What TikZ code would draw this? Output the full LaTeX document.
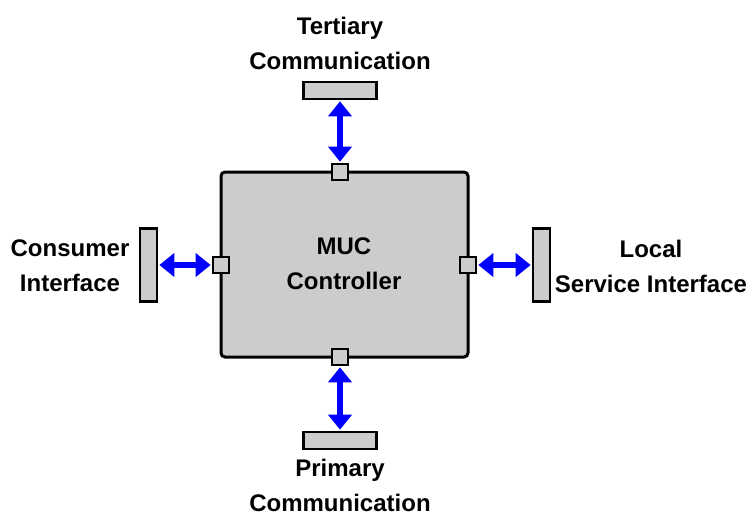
\documentclass[tikz,border=0pt]{standalone}
\usepackage{fontspec}
\setmainfont{Liberation Sans}
\usetikzlibrary{arrows.meta,positioning}
\definecolor{boxgray}{RGB}{204,204,204}
\definecolor{linkblue}{RGB}{0,0,255}
\tikzstyle{controller} = [rectangle, draw=black, line width=3pt, fill=boxgray, rounded corners=4pt, minimum width=247pt, minimum height=185pt, inner sep=0pt]
\tikzstyle{port} = [rectangle, draw=black, line width=2.6pt, fill=boxgray, minimum size=16pt, inner sep=0pt]
\tikzstyle{hbar} = [rectangle, draw=black, line width=2.6pt, fill=boxgray, minimum width=73pt, minimum height=17pt, inner sep=0pt]
\tikzstyle{vbar} = [rectangle, draw=black, line width=2.6pt, fill=boxgray, minimum width=17pt, minimum height=73pt, inner sep=0pt]
\tikzstyle{textonly} = [draw=none, fill=none, align=center, font=\bfseries\fontsize{24pt}{35pt}\selectfont]
\tikzstyle{link} = [draw=linkblue, line width=6.5pt, {Triangle[width=23pt,length=15pt]}-{Triangle[width=23pt,length=15pt]}, shorten <=1pt, shorten >=1pt]

\begin{document}
\begin{tikzpicture}[x=1pt, y=-1pt]
\useasboundingbox (0,0) rectangle (752,516);

% controller and its four ports ==========
\node[controller] (muc) at (344.5,264.5) {};
\node[textonly] at (344,264) {MUC\\Controller};
\node[port] (ptop) at (340,172) {};
\node[port] (pbot) at (340,357) {};
\node[port] (pleft) at (221,265) {};
\node[port] (pright) at (468,265) {};

% interface bars
\node[hbar] (tert) at (340,90.5) {};
\node[hbar] (prim) at (340,440.5) {};
\node[vbar] (cons) at (148.5,265) {};
\node[vbar] (local) at (541.5,265) {};

% labels
\node[textonly] at (340,43) {Tertiary\\Communication};
\node[textonly] at (340,485) {Primary\\Communication};
\node[textonly] at (70,266) {Consumer\\Interface};
\node[textonly] at (651,266) {Local\\Service Interface};

% links
\path[link] (tert) -- (ptop);
\path[link] (pbot) -- (prim);
\path[link] (cons) -- (pleft);
\path[link] (pright) -- (local);

\end{tikzpicture}
\end{document}
